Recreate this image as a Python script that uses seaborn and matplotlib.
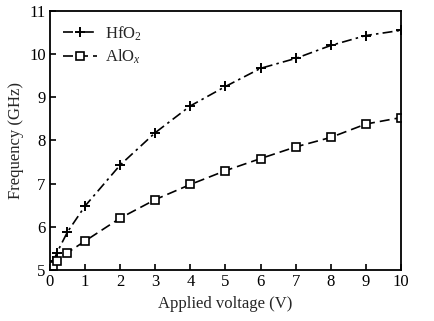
import matplotlib
matplotlib.use("Agg")
import matplotlib.pyplot as plt
import seaborn as sns
import pandas as pd

voltage = [0.1, 0.2, 0.5, 1, 2, 3, 4, 5, 6, 7, 8, 9, 10]
hfo2 = [5.2, 5.4, 5.88, 6.48, 7.43, 8.18, 8.8, 9.25, 9.67, 9.9, 10.2, 10.43, 10.55]
alox = [5.1, 5.2, 5.4, 5.67, 6.2, 6.63, 6.98, 7.3, 7.58, 7.85, 8.07, 8.38, 8.53]
xticks = [0, 1, 2, 3, 4, 5, 6, 7, 8, 9, 10]
yticks = [5, 6, 7, 8, 9, 10, 11]

sns.set_theme(style="ticks")
plt.rcParams['font.family'] = ['Liberation Serif', 'DejaVu Serif']
plt.rcParams['mathtext.fontset'] = 'custom'
plt.rcParams['mathtext.rm'] = 'Liberation Serif'
plt.rcParams['mathtext.it'] = 'Liberation Serif:italic'

fig = plt.figure(figsize=(4.34, 3.21), dpi=100)
ax = fig.add_axes([0.115, 0.159, 0.809, 0.807])

df = pd.DataFrame({"V": voltage, "h": hfo2, "a": alox})
sns.lineplot(data=df, x="V", y="h", ax=ax, color="black", lw=1.2,
             linestyle=(0, (6, 2.5, 1.5, 2.5)), marker="+", markersize=6.5,
             mew=1.4, mec="black", mfc="black",
             label="HfO$_2$")
sns.lineplot(data=df, x="V", y="a", ax=ax, color="black", lw=1.2,
             linestyle=(0, (6, 3)), marker="s", markersize=5.5, mfc="white",
             mec="black", mew=1.2,
             label="AlO$_x$")

ax.set_xlim(0, 10)
ax.set_ylim(5, 11)
ax.set_xticks(xticks)
ax.set_yticks(yticks)
ax.tick_params(direction="in", length=4, width=1.2, labelsize=12, colors="black", pad=3)
for s in ax.spines.values():
    s.set_linewidth(1.3)
    s.set_color("black")
ax.set_xlabel("Applied voltage (V)", fontsize=12, labelpad=4)
ax.set_ylabel("Frequency (GHz)", fontsize=12, labelpad=4)
leg = ax.legend(loc="upper left", frameon=False, fontsize=12, handlelength=2.0,
                handletextpad=0.5, borderaxespad=0.4, labelspacing=0.3)
fig.savefig("out.png", dpi=100)
